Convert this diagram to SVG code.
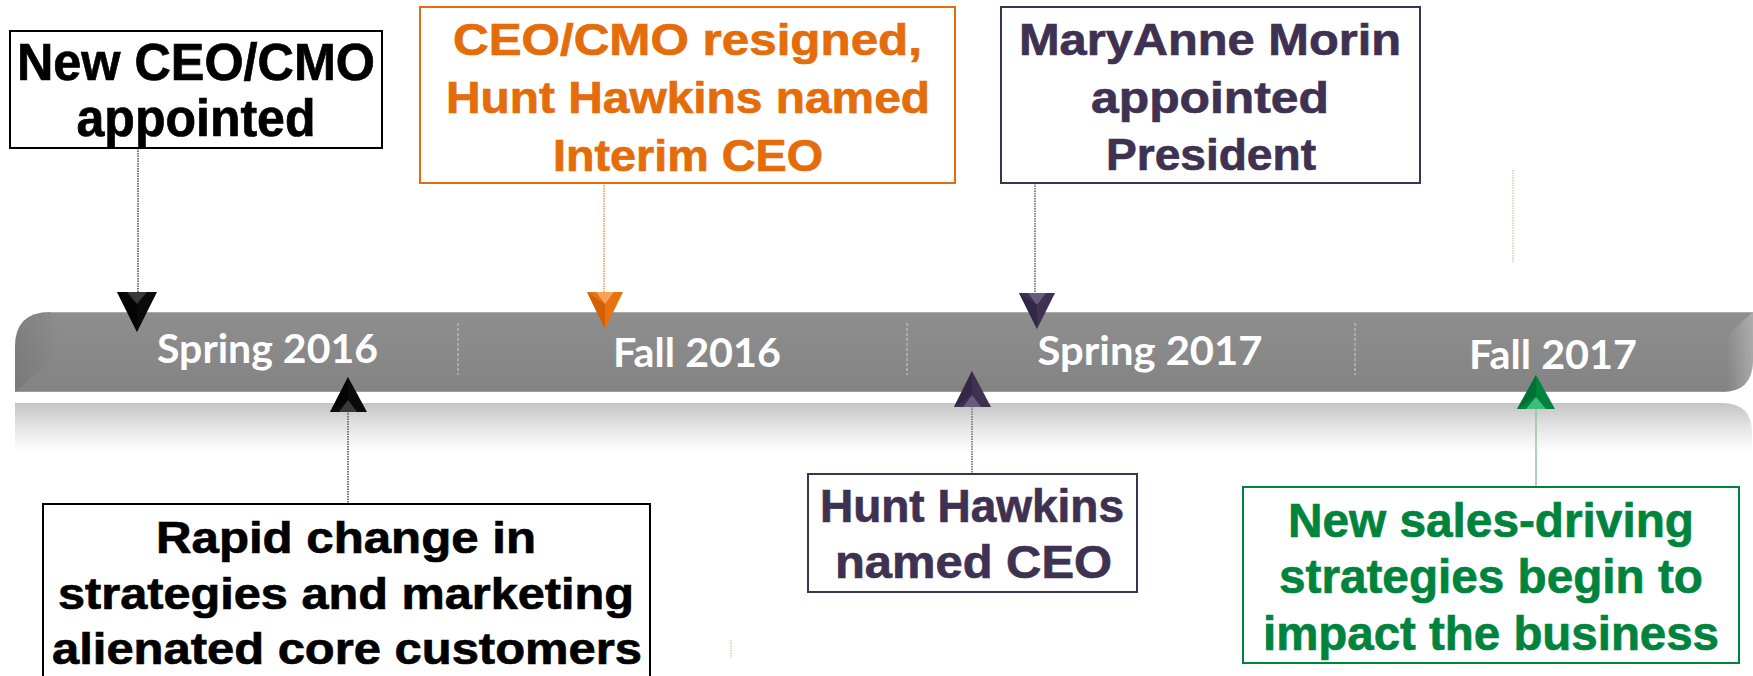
<svg xmlns="http://www.w3.org/2000/svg" width="1753" height="676" viewBox="0 0 1753 676">
  <defs>
    <linearGradient id="barFill" x1="0" y1="0" x2="0" y2="1">
      <stop offset="0" stop-color="#8e8e8e"/>
      <stop offset="0.5" stop-color="#898989"/>
      <stop offset="1" stop-color="#838383"/>
    </linearGradient>
    <linearGradient id="reflect" x1="0" y1="0" x2="0" y2="1">
      <stop offset="0" stop-color="#c4c4c4"/>
      <stop offset="0.45" stop-color="#e2e2e2"/>
      <stop offset="1" stop-color="#ffffff"/>
    </linearGradient>
    <linearGradient id="rightBevel" x1="0" y1="0" x2="1" y2="0">
      <stop offset="0" stop-color="#ffffff" stop-opacity="0"/>
      <stop offset="1" stop-color="#ffffff" stop-opacity="0.28"/>
    </linearGradient>
    <linearGradient id="leftShade" x1="0" y1="0" x2="1" y2="0">
      <stop offset="0" stop-color="#5e5e5e" stop-opacity="0.3"/>
      <stop offset="1" stop-color="#5e5e5e" stop-opacity="0"/>
    </linearGradient>
  </defs>
  <style>
    .box{fill:#fff;stroke-width:2}
    .t{font-family:"Liberation Sans",Arial,sans-serif;font-weight:bold;text-anchor:middle;stroke-width:0.7}
    .lbl{font-family:Lato,"Open Sans",sans-serif;font-weight:bold;fill:#fff;text-anchor:middle;font-size:41px}
    .div{stroke:#cfcfcf;stroke-width:1;stroke-dasharray:3 2}
    .blk{fill:#000;stroke:#000}
    .org{fill:#e46c0a;stroke:#e46c0a}
    .pur{fill:#3f3151;stroke:#3f3151}
    .grn{fill:#00843d;stroke:#00843d}
    .box.blk,.box.org,.box.pur,.box.grn{fill:#fff}
    .lead{fill:none;stroke-width:2;stroke-dasharray:1.5 1}
    .facet{stroke:none}
  </style>

  <!-- timeline bar with its reflection -->
  <g id="timeline">
    <path d="M15,403 L1722,403 Q1752,403 1752,433 L1752,452 L15,452 Z" fill="url(#reflect)"/>
    <path d="M15,392 L15,347 Q15,312 50,312 L1753,312 L1753,362 Q1752,392 1722,392 Z" fill="url(#barFill)"/>
    <path d="M15,392 L15,347 Q15,312 50,312 L60,312 L60,352 Z" fill="url(#leftShade)"/>
    <path d="M1727,335 L1753,312 L1753,362 Q1752,392 1727,392 Z" fill="url(#rightBevel)"/>
    <line x1="50" y1="312.5" x2="1753" y2="312.5" stroke="#a9a9a9" stroke-width="1"/>
    <line x1="15" y1="391.5" x2="1722" y2="391.5" stroke="#9a9a9a" stroke-width="1"/>
    <line class="div" x1="458" y1="323" x2="458" y2="375"/>
    <line class="div" x1="907" y1="323" x2="907" y2="375"/>
    <line class="div" x1="1355" y1="323" x2="1355" y2="375"/>
    <text class="lbl" x="267.5" y="363" textLength="221" lengthAdjust="spacingAndGlyphs">Spring 2016</text>
    <text class="lbl" x="697" y="367" textLength="168" lengthAdjust="spacingAndGlyphs">Fall 2016</text>
    <text class="lbl" x="1150" y="365" textLength="225" lengthAdjust="spacingAndGlyphs">Spring 2017</text>
    <text class="lbl" x="1553" y="369" textLength="168" lengthAdjust="spacingAndGlyphs">Fall 2017</text>
  </g>

  <!-- leader lines and arrowheads -->
  <g id="connectors">
    <line class="lead" x1="138" y1="148" x2="138" y2="293" stroke="#7a7a7a"/>
    <line class="lead" x1="604" y1="183" x2="604" y2="293" stroke="#f2b07a"/>
    <line class="lead" x1="1035" y1="183" x2="1035" y2="294" stroke="#8c8698"/>
    <line class="lead" x1="348" y1="411" x2="348" y2="504" stroke="#7a7a7a"/>
    <line class="lead" x1="972" y1="406" x2="972" y2="474" stroke="#8c8698"/>
    <line x1="1536" y1="408" x2="1536" y2="487" stroke="#8fc7a5" stroke-width="1.5"/>

    <!-- down arrowheads -->
    <polygon points="117,292 157,292 137,332" fill="#0a0a0a"/>
    <polygon class="facet" points="127,292 147,292 137,304" fill="#3a3a3a"/>
    <polygon class="facet" points="117,292 137,304 137,332" fill="#000" opacity="0.6"/>

    <polygon points="587,292 623,292 605,329" fill="#e8720f"/>
    <polygon class="facet" points="596,292 614,292 605,304" fill="#f9a05a"/>
    <polygon class="facet" points="587,292 605,304 605,329" fill="#c85a00" opacity="0.7"/>

    <polygon points="1019,293 1055,293 1037,329" fill="#3f3151"/>
    <polygon class="facet" points="1028,293 1046,293 1037,305" fill="#6a5a80"/>
    <polygon class="facet" points="1019,293 1037,305 1037,329" fill="#2e2340" opacity="0.7"/>

    <!-- up arrowheads -->
    <polygon points="330,412 367,412 348,377" fill="#0a0a0a"/>
    <polygon class="facet" points="339,412 357,412 348,400" fill="#3a3a3a"/>
    <polygon class="facet" points="330,412 348,400 348,377" fill="#000" opacity="0.6"/>

    <polygon points="954,407 991,407 972,371" fill="#3f3151"/>
    <polygon class="facet" points="963,407 981,407 972,395" fill="#6a5a80"/>
    <polygon class="facet" points="954,407 972,395 972,371" fill="#2e2340" opacity="0.7"/>

    <polygon points="1517,409 1555,409 1536,375" fill="#00843d"/>
    <polygon class="facet" points="1526,409 1546,409 1536,397" fill="#3cbf78"/>
    <polygon class="facet" points="1517,409 1536,397 1536,375" fill="#006a30" opacity="0.7"/>

    <!-- faint stray strokes -->
    <line x1="1513" y1="170" x2="1513" y2="263" stroke="#c6dca6" stroke-width="1.5" stroke-dasharray="1.5 1"/>
    <line x1="731" y1="640" x2="731" y2="658" stroke="#c6dca6" stroke-width="1.5" stroke-dasharray="1.5 1"/>
  </g>

  <g id="new-ceo-cmo">
    <rect class="box blk" x="10" y="31" width="372" height="117"/>
    <text class="t blk" font-size="51" x="196" y="80" textLength="358" lengthAdjust="spacingAndGlyphs">New CEO/CMO</text>
    <text class="t blk" font-size="51" x="196" y="136" textLength="239" lengthAdjust="spacingAndGlyphs">appointed</text>
  </g>

  <g id="ceo-resigned">
    <rect class="box org" x="420" y="7" width="535" height="176"/>
    <text class="t org" font-size="45" x="687.5" y="55" textLength="469" lengthAdjust="spacingAndGlyphs">CEO/CMO resigned,</text>
    <text class="t org" font-size="45" x="688" y="113" textLength="484" lengthAdjust="spacingAndGlyphs">Hunt Hawkins named</text>
    <text class="t org" font-size="45" x="688" y="171" textLength="270" lengthAdjust="spacingAndGlyphs">Interim CEO</text>
  </g>

  <g id="morin-president">
    <rect class="box pur" x="1001" y="7" width="419" height="176"/>
    <text class="t pur" font-size="45" x="1210" y="55" textLength="382" lengthAdjust="spacingAndGlyphs">MaryAnne Morin</text>
    <text class="t pur" font-size="45" x="1210" y="113" textLength="238" lengthAdjust="spacingAndGlyphs">appointed</text>
    <text class="t pur" font-size="45" x="1211" y="170" textLength="210" lengthAdjust="spacingAndGlyphs">President</text>
  </g>

  <g id="rapid-change">
    <rect class="box blk" x="43" y="504" width="607" height="190"/>
    <text class="t blk" font-size="44" x="346" y="553" textLength="380" lengthAdjust="spacingAndGlyphs">Rapid change in</text>
    <text class="t blk" font-size="44" x="346" y="609" textLength="576" lengthAdjust="spacingAndGlyphs">strategies and marketing</text>
    <text class="t blk" font-size="44" x="347" y="664" textLength="590" lengthAdjust="spacingAndGlyphs">alienated core customers</text>
  </g>

  <g id="hawkins-ceo">
    <rect class="box pur" x="808" y="474" width="329" height="118"/>
    <text class="t pur" font-size="47" x="972" y="522" textLength="304" lengthAdjust="spacingAndGlyphs">Hunt Hawkins</text>
    <text class="t pur" font-size="47" x="973.5" y="578" textLength="277" lengthAdjust="spacingAndGlyphs">named CEO</text>
  </g>

  <g id="sales-strategies">
    <rect class="box grn" x="1243" y="487" width="496" height="176"/>
    <text class="t grn" font-size="48" x="1491" y="537" textLength="406" lengthAdjust="spacingAndGlyphs">New sales-driving</text>
    <text class="t grn" font-size="48" x="1491" y="593" textLength="424" lengthAdjust="spacingAndGlyphs">strategies begin to</text>
    <text class="t grn" font-size="48" x="1491" y="650" textLength="456" lengthAdjust="spacingAndGlyphs">impact the business</text>
  </g>
</svg>
